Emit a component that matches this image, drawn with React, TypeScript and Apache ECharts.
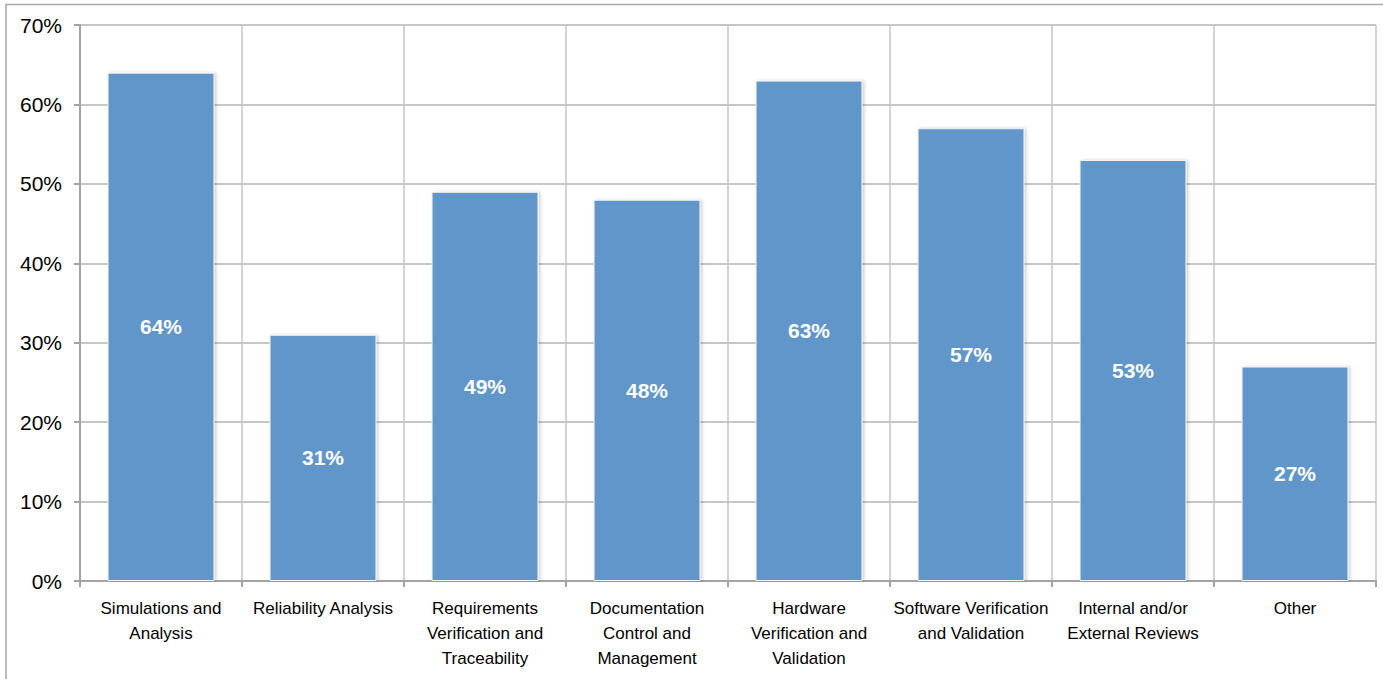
import React, { useEffect, useRef } from "react";
import * as echarts from "echarts";

// Practice areas and the share of respondents using each one
const categories: string[] = [
  "Simulations and\nAnalysis",
  "Reliability Analysis",
  "Requirements\nVerification and\nTraceability",
  "Documentation\nControl and\nManagement",
  "Hardware\nVerification and\nValidation",
  "Software Verification\nand Validation",
  "Internal and/or\nExternal Reviews",
  "Other",
];
const shares: number[] = [64, 31, 49, 48, 63, 57, 53, 27];

const FONT = "'Liberation Sans', Arial, Helvetica, sans-serif";

export default function App() {
  const ref = useRef<HTMLDivElement | null>(null);

  useEffect(() => {
    if (!ref.current) return;
    const chart = echarts.init(ref.current, undefined, { renderer: "svg" });
    chart.setOption({
      animation: false,
      backgroundColor: "#ffffff",
      grid: { left: 80, right: 7, top: 25, bottom: 98, containLabel: false },
      graphic: [
        {
          type: "rect",
          shape: { x: 6, y: 4.5, width: 1420, height: 720 },
          style: { fill: "none", stroke: "#ABABAB", lineWidth: 1.6 },
          silent: true,
          z: -10,
        },
      ],
      xAxis: {
        type: "category",
        data: categories,
        axisLine: { show: true, lineStyle: { color: "#A3A3A3", width: 2 } },
        axisTick: { show: true, length: 6, lineStyle: { color: "#A3A3A3", width: 2 } },
        splitLine: { show: true, lineStyle: { color: "#C4C4C4", width: 1.5 } },
        axisLabel: {
          interval: 0,
          margin: 15,
          color: "#000000",
          fontFamily: FONT,
          fontSize: 17,
          lineHeight: 25,
          align: "center",
        },
      },
      yAxis: {
        type: "value",
        min: 0,
        max: 70,
        interval: 10,
        axisLine: { show: true, lineStyle: { color: "#A3A3A3", width: 2 } },
        axisTick: { show: true, length: 6, lineStyle: { color: "#A3A3A3", width: 2 } },
        splitLine: { show: true, lineStyle: { color: "#B4B4B4", width: 1.5 } },
        axisLabel: {
          margin: 18,
          color: "#000000",
          fontFamily: FONT,
          fontSize: 21,
          formatter: (v: number) => `${v}%`,
        },
      },
      series: [
        {
          type: "bar",
          data: shares,
          barCategoryGap: "34%",
          itemStyle: {
            color: "#6096C9",
            borderColor: "#F2F2F2",
            borderWidth: 1,
            shadowColor: "rgba(0,0,0,0.18)",
            shadowBlur: 3,
            shadowOffsetX: 2,
            shadowOffsetY: 0,
          },
          label: {
            show: true,
            position: "inside",
            color: "#ffffff",
            fontFamily: FONT,
            fontWeight: "bold",
            fontSize: 21,
            formatter: (p: any) => `${p.value}%`,
          },
        },
      ],
    });
    return () => chart.dispose();
  }, []);

  return (
    <div
      ref={ref}
      style={{ position: "fixed", left: 0, top: 0, width: 1383, height: 679 }}
    />
  );
}
